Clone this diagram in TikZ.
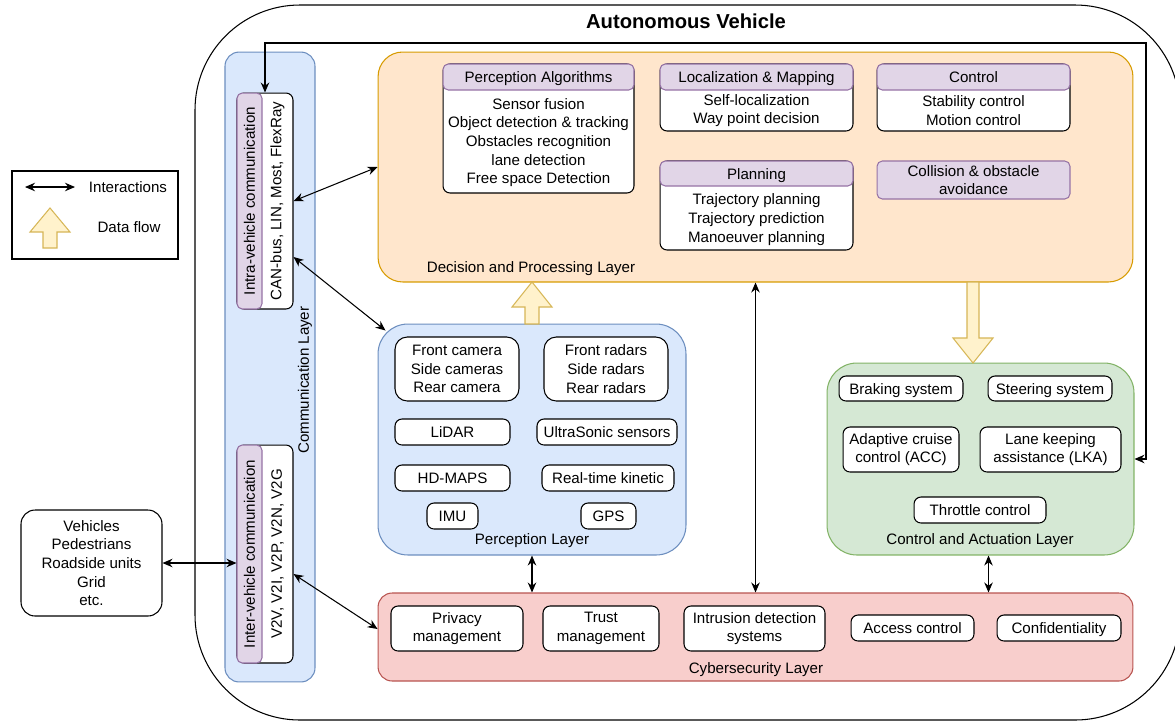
\documentclass[tikz,border=0pt]{standalone}
\usepackage{fontspec}
\setmainfont{Liberation Sans}
\usepackage{tikz}
\usetikzlibrary{arrows.meta,calc,positioning}
\definecolor{decfill}{HTML}{FFE6CC}
\definecolor{decline}{HTML}{D79B00}
\definecolor{percfill}{HTML}{DAE8FC}
\definecolor{percline}{HTML}{6C8EBF}
\definecolor{ctrlfill}{HTML}{D5E8D4}
\definecolor{ctrlline}{HTML}{82B366}
\definecolor{cyberfill}{HTML}{F8CECC}
\definecolor{cyberline}{HTML}{B85450}
\definecolor{headfill}{HTML}{E1D5E7}
\definecolor{headline}{HTML}{9673A6}
\definecolor{flowfill}{HTML}{FFF2CC}
\definecolor{flowline}{HTML}{D6B656}

\begin{document}
\begin{tikzpicture}[x=0.02cm,y=-0.02cm,
  font=\fontsize{8.6}{10.6}\selectfont,
  layer/.style={draw,line width=0.6pt},
  box/.style={draw,fill=white,rounded corners=4pt,line width=0.6pt,align=center,inner sep=1pt},
  sbox/.style={box,text height=1.55ex,text depth=0.35ex},
  head/.style={draw=headline,fill=headfill,rounded corners=3pt,line width=0.6pt,align=center,inner sep=1pt},
  shead/.style={head,text height=1.55ex,text depth=0.35ex},
  link/.style={{Stealth[length=2mm,width=1.7mm]}-{Stealth[length=2mm,width=1.7mm]},line width=0.6pt},
  flow/.style={draw=flowline,fill=flowfill,line width=0.6pt}]
  \useasboundingbox (0,0) rectangle (1175,721);

  % vehicle frame
  \draw[line width=0.6pt,rounded corners=2.1cm] (195,5) rectangle (1180,720);
  \node[font=\bfseries\fontsize{11.5}{14}\selectfont] (title) at (686,21) {Autonomous Vehicle};

  % legend
  \draw[line width=0.6pt] (12,171) rectangle (178,259);
  \coordinate (la) at (25,187);
  \coordinate (lb) at (75,187);
  \draw[link] (la) -- (lb);
  \node (linter) at (128,187) {Interactions};
  \draw[flow] (43,248) -- (43,232) -- (30,232) -- (50,208) -- (70,232) -- (57,232) -- (57,248) -- cycle;
  \node (lflow) at (129,227) {Data flow};

  % outside world
  \node[box,rounded corners=8pt,minimum width=2.82cm,minimum height=2.12cm] (ext) at (91.5,563)
    {Vehicles\\Pedestrians\\Roadside units\\Grid\\etc.};

  % communication layer
  \node[layer,draw=percline,fill=percfill,rounded corners=8pt,minimum width=1.8cm,minimum height=12.6cm] (comm) at (270,367) {};
  \node[rotate=90] (commlbl) at (305,380) {Communication Layer};
  \node[box,minimum width=1.12cm,minimum height=4.32cm] (intra) at (265,201) {};
  \node[head,minimum width=0.5cm,minimum height=4.32cm] (intrahead) at (249.5,201) {};
  \node[rotate=90] (intratitle) at (249.5,201) {Intra-vehicle communication};
  \node[rotate=90] (intratext) at (277.5,201) {CAN-bus, LIN, Most, FlexRay};
  \node[box,minimum width=1.12cm,minimum height=4.36cm] (inter) at (265,554) {};
  \node[head,minimum width=0.5cm,minimum height=4.36cm] (interhead) at (249.5,554) {};
  \node[rotate=90] (intertitle) at (249.5,554) {Inter-vehicle communication};
  \node[rotate=90] (intertext) at (277.5,554) {V2V, V2I, V2P, V2N, V2G};

  % decision and processing layer
  \node[layer,draw=decline,fill=decfill,rounded corners=14pt,minimum width=15.1cm,minimum height=4.6cm] (dec) at (755.5,167) {};
  \node (declbl) at (531,269) {Decision and Processing Layer};
  \node[box,minimum width=3.82cm,minimum height=2.58cm] (pa) at (538.5,128.5) {};
  \node[shead,minimum width=3.82cm,minimum height=0.52cm] (pahead) at (538.5,77) {Perception Algorithms};
  \node[align=center] (patext) at (538.5,142.5)
    {Sensor fusion\\Object detection \& tracking\\Obstacles recognition\\lane detection\\Free space Detection};
  \node[box,minimum width=3.86cm,minimum height=1.34cm] (lm) at (756.5,97.5) {};
  \node[shead,minimum width=3.86cm,minimum height=0.52cm] (lmhead) at (756.5,77) {Localization \& Mapping};
  \node[align=center] (lmtext) at (756.5,110.5) {Self-localization\\Way point decision};
  \node[box,minimum width=3.86cm,minimum height=1.34cm] (ctl) at (973.5,97.5) {};
  \node[shead,minimum width=3.86cm,minimum height=0.52cm] (ctlhead) at (973.5,77) {Control};
  \node[align=center] (ctltext) at (973.5,110.5) {Stability control\\Motion control};
  \node[box,minimum width=3.86cm,minimum height=1.78cm] (pl) at (756.5,205.5) {};
  \node[shead,minimum width=3.86cm,minimum height=0.5cm] (plhead) at (756.5,173.5) {Planning};
  \node[align=center] (pltext) at (756.5,219.5) {Trajectory planning\\Trajectory prediction\\Manoeuver planning};
  \node[head,minimum width=3.86cm,minimum height=0.76cm] (col) at (973.5,180) {Collision \& obstacle\\avoidance};

  % perception layer
  \node[layer,draw=percline,fill=percfill,rounded corners=17pt,minimum width=6.16cm,minimum height=4.62cm] (perc) at (532,439.5) {};
  \node (perclbl) at (532,541) {Perception Layer};
  \node[box,rounded corners=7pt,minimum width=2.48cm,minimum height=1.28cm] (fcam) at (457,369) {Front camera\\Side cameras\\Rear camera};
  \node[box,rounded corners=7pt,minimum width=2.48cm,minimum height=1.28cm] (frad) at (606,369) {Front radars\\Side radars\\Rear radars};
  \node[sbox,minimum width=2.3cm,minimum height=0.52cm] (lidar) at (452.5,432) {LiDAR};
  \node[sbox,minimum width=2.8cm,minimum height=0.52cm] (usonic) at (607,432) {UltraSonic sensors};
  \node[sbox,minimum width=2.3cm,minimum height=0.52cm] (hdmaps) at (452.5,478) {HD-MAPS};
  \node[sbox,minimum width=2.64cm,minimum height=0.52cm] (rtk) at (608,478) {Real-time kinetic};
  \node[sbox,minimum width=1.02cm,minimum height=0.52cm] (imu) at (452.5,516) {IMU};
  \node[sbox,minimum width=1.1cm,minimum height=0.52cm] (gps) at (608.5,516) {GPS};

  % control and actuation layer
  \node[layer,draw=ctrlline,fill=ctrlfill,rounded corners=17pt,minimum width=6.14cm,minimum height=3.84cm] (ctrl) at (980.5,459) {};
  \node (ctrllbl) at (980,541) {Control and Actuation Layer};
  \node[sbox,minimum width=2.48cm,minimum height=0.5cm] (brake) at (901,388.5) {Braking system};
  \node[sbox,minimum width=2.48cm,minimum height=0.5cm] (steer) at (1050,388.5) {Steering system};
  \node[box,minimum width=2.32cm,minimum height=0.9cm] (acc) at (901,449.5) {Adaptive cruise\\control (ACC)};
  \node[box,minimum width=2.82cm,minimum height=0.9cm] (lka) at (1050.5,449.5) {Lane keeping\\assistance (LKA)};
  \node[sbox,minimum width=2.64cm,minimum height=0.52cm] (throttle) at (980,510) {Throttle control};

  % cybersecurity layer
  \node[layer,draw=cyberline,fill=cyberfill,rounded corners=8pt,minimum width=15.1cm,minimum height=1.76cm] (cyber) at (755.5,637) {};
  \node (cyberlbl) at (756,670) {Cybersecurity Layer};
  \node[box,minimum width=2.64cm,minimum height=0.9cm] (priv) at (457,628.5) {Privacy\\management};
  \node[box,minimum width=2.32cm,minimum height=0.9cm] (trust) at (601,628.5) {Trust\\management};
  \node[box,minimum width=2.82cm,minimum height=0.9cm] (ids) at (754.5,628.5) {Intrusion detection\\systems};
  \node[sbox,minimum width=2.46cm,minimum height=0.52cm] (access) at (912.5,628) {Access control};
  \node[sbox,minimum width=2.48cm,minimum height=0.52cm] (conf) at (1059,628) {Confidentiality};

  % data flow
  \draw[flow] (525,324) -- (525,307) -- (512,307) -- (532,282) -- (552,307) -- (539,307) -- (539,324) -- cycle;
  \draw[flow] (967,282) -- (967,338) -- (953,338) -- (973,363) -- (993,338) -- (979,338) -- (979,282) -- cycle;

  % interactions
  \coordinate (loop) at (1146,43);
  \draw[link] (intra.north) |- (loop) |- (ctrl.east);
  \draw[link] (intra.east) -- (dec.west);
  \draw[link] (intra.east |- 0,257) -- ($(perc.north west)+(8,7)$);
  \draw[link] (ext.east) -- (inter.west |- ext.east);
  \draw[link] (inter.east |- 0,574) -- (cyber.west |- 0,629);
  \draw[link] (perc.south) -- (perc.south |- cyber.north);
  \draw[link] (dec.south) -- (dec.south |- cyber.north);
  \draw[link] ($(ctrl.south)+(8,0)$) -- ($(ctrl.south |- cyber.north)+(8,0)$);
\end{tikzpicture}
\end{document}
